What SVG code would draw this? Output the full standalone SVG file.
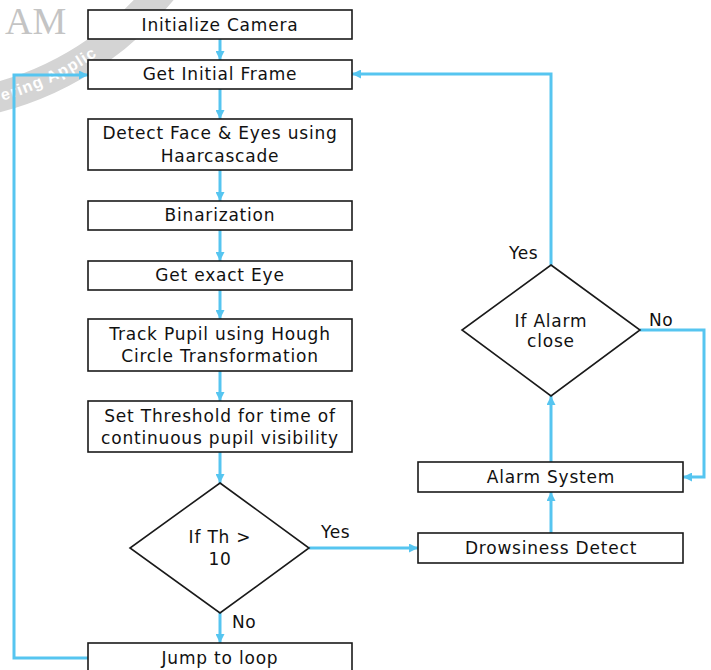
<svg xmlns="http://www.w3.org/2000/svg" width="711" height="670" viewBox="0 0 711 670">
<style>
.box{fill:#fff;stroke:#1a1a1a;stroke-width:1.6}
.t{font-family:"DejaVu Sans",Verdana,sans-serif;font-size:17px;fill:#111;text-anchor:middle;letter-spacing:0.8px}
.lbl{font-family:"DejaVu Sans",Verdana,sans-serif;font-size:17px;fill:#111;letter-spacing:0.6px}
.ca{fill:none;stroke:#56C5F0;stroke-width:3;marker-end:url(#ah)}
</style>
<defs>
<marker id="ah" viewBox="0 0 10 10" refX="10" refY="5" markerWidth="9" markerHeight="9" markerUnits="userSpaceOnUse" orient="auto">
<path d="M0,0 L10,5 L0,10 Z" fill="#56C5F0"/>
</marker>
<path id="wm" d="M -10,104 A 318 318 0 0 0 175,-22"/>
</defs>
<rect width="711" height="670" fill="#fff"/>
<g id="watermark">
<path d="M -28.5,103 A 314 314 0 0 0 189,-49" fill="none" stroke="#d4d4d4" stroke-width="30"/>
<text x="5" y="34" font-family="Liberation Serif,serif" font-size="38" fill="#c4c4c4">AM</text>
<text font-family="Liberation Sans,Arial,sans-serif" font-size="16" font-weight="bold" fill="#fff" letter-spacing="1.2"><textPath href="#wm" startOffset="13">ering Applic</textPath></text>
</g>
<g id="connectors">
<line class="ca" x1="220" y1="39" x2="220" y2="60"/>
<line class="ca" x1="220" y1="89" x2="220" y2="119"/>
<line class="ca" x1="220" y1="170" x2="220" y2="201"/>
<line class="ca" x1="220" y1="230" x2="220" y2="261"/>
<line class="ca" x1="220" y1="290" x2="220" y2="319"/>
<line class="ca" x1="220" y1="371" x2="220" y2="401"/>
<line class="ca" x1="220" y1="452" x2="220" y2="483"/>
<line class="ca" x1="220" y1="613" x2="220" y2="643"/>
<polyline class="ca" points="88,658 14,658 14,75 88,75"/>
<line class="ca" x1="309" y1="548" x2="418" y2="548"/>
<line class="ca" x1="551" y1="533" x2="551" y2="492"/>
<line class="ca" x1="551" y1="462" x2="551" y2="396"/>
<polyline class="ca" points="551,265 551,74 352,74"/>
<polyline class="ca" points="640,330 704,330 704,477 683,477"/>
<text class="lbl" x="321" y="538">Yes</text>
<text class="lbl" x="232" y="628">No</text>
<text class="lbl" x="509" y="259">Yes</text>
<text class="lbl" x="649" y="326">No</text>
</g>
<g id="n1"><rect class="box" x="88" y="10" width="264" height="29"/><text class="t" x="220" y="31">Initialize Camera</text></g>
<g id="n2"><rect class="box" x="88" y="60" width="264" height="29"/><text class="t" x="220" y="80">Get Initial Frame</text></g>
<g id="n3"><rect class="box" x="88" y="119" width="264" height="51"/><text class="t" x="220" y="139">Detect Face &amp; Eyes using</text><text class="t" x="220" y="162">Haarcascade</text></g>
<g id="n4"><rect class="box" x="88" y="201" width="264" height="29"/><text class="t" x="220" y="221">Binarization</text></g>
<g id="n5"><rect class="box" x="88" y="261" width="264" height="29"/><text class="t" x="220" y="281">Get exact Eye</text></g>
<g id="n6"><rect class="box" x="88" y="319" width="264" height="52"/><text class="t" x="220" y="340">Track Pupil using Hough</text><text class="t" x="220" y="362">Circle Transformation</text></g>
<g id="n7"><rect class="box" x="88" y="401" width="264" height="51"/><text class="t" x="220" y="422">Set Threshold for time of</text><text class="t" x="220" y="444">continuous pupil visibility</text></g>
<g id="n8"><polygon class="box" points="220,483 309,548 220,613 130,548"/><text class="t" x="220" y="543">If Th &gt;</text><text class="t" x="220" y="565">10</text></g>
<g id="n9"><rect class="box" x="88" y="643" width="264" height="30"/><text class="t" x="220" y="664">Jump to loop</text></g>
<g id="n10"><rect class="box" x="418" y="533" width="265" height="30"/><text class="t" x="551" y="554">Drowsiness Detect</text></g>
<g id="n11"><rect class="box" x="418" y="462" width="265" height="30"/><text class="t" x="551" y="483">Alarm System</text></g>
<g id="n12"><polygon class="box" points="551,265 640,330 551,396 462,330"/><text class="t" x="551" y="327">If Alarm</text><text class="t" x="551" y="347">close</text></g>
</svg>
